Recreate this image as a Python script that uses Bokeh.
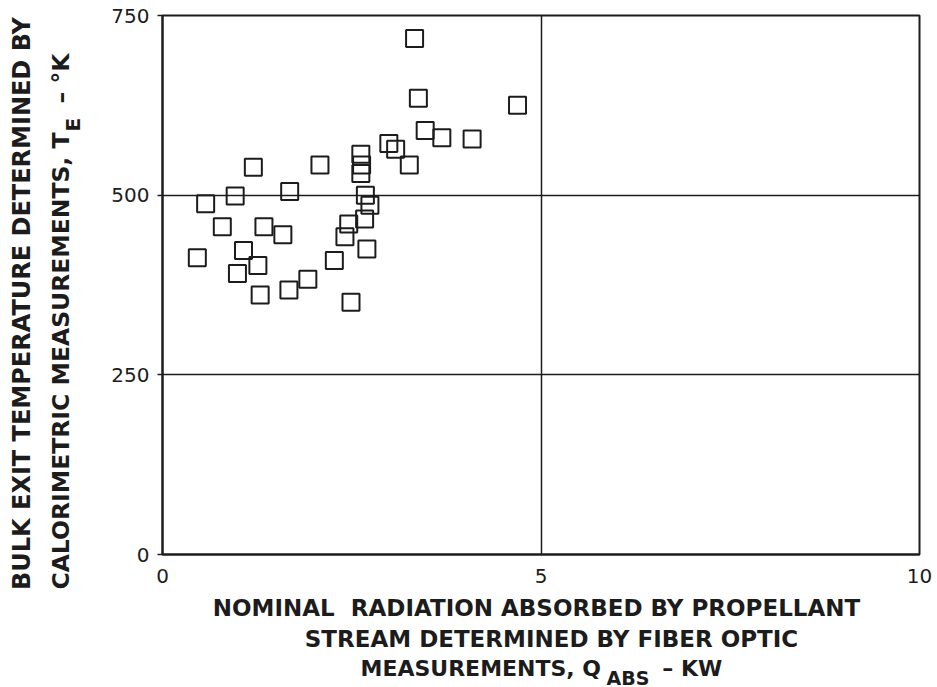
import math
from bokeh.plotting import figure
from bokeh.models import Range1d, FixedTicker, Label
from bokeh.embed import file_html
from bokeh.resources import INLINE

# ---- data ----
x_ticks = [0, 5, 10]
y_ticks = [0, 250, 500, 750]
x_grid = [5]
y_grid = [250, 500]

q_abs = [3.33, 3.38, 4.69, 3.47, 3.69, 4.09, 2.99, 3.08, 3.26, 1.20,
         2.08, 2.62, 2.63, 2.62, 2.68, 2.74, 0.96, 0.57, 1.68, 0.79,
         1.34, 1.59, 2.67, 2.46, 2.41, 2.70, 0.46, 1.07, 1.26, 0.99,
         2.27, 1.92, 1.67, 1.29, 2.49]
t_exit = [718, 635, 625, 590, 580, 578, 572, 564, 542, 539,
          542, 557, 542, 530, 500, 486, 499, 488, 505, 456,
          456, 445, 467, 460, 442, 425, 413, 423, 402, 391,
          409, 383, 368, 361, 351]

NB = "\u00a0"
x_title_1 = "NOMINAL" + NB + " RADIATION ABSORBED BY PROPELLANT"
x_title_2 = "STREAM DETERMINED BY FIBER OPTIC"
x_title_3 = "MEASUREMENTS, Q" + NB * 8 + "– KW"
x_title_sub = "ABS"
y_title_1 = "BULK EXIT TEMPERATURE DETERMINED BY"
y_title_2 = "CALORIMETRIC MEASUREMENTS, T"
y_title_sub = "E"
y_title_unit = "–" + NB + "°K"

W, H = 937, 687
L, R, T, B = 162, 18, 15, 133
INK = "#1c1c1c"
FONT = "DejaVu Sans"

p = figure(width=W, height=H, x_range=Range1d(0, 10), y_range=Range1d(0, 750),
           output_backend="svg", toolbar_location=None,
           min_border_left=L, min_border_right=R, min_border_top=T, min_border_bottom=B)
p.background_fill_color = "white"
p.border_fill_color = "white"
p.outline_line_color = INK
p.outline_line_width = 2

p.xaxis.ticker = FixedTicker(ticks=x_ticks)
p.yaxis.ticker = FixedTicker(ticks=y_ticks)
p.xgrid.ticker = FixedTicker(ticks=x_grid)
p.ygrid.ticker = FixedTicker(ticks=y_grid)
for g in (p.xgrid, p.ygrid):
    g.grid_line_color = INK
    g.grid_line_width = 1.5
    g.grid_line_alpha = 1.0

for ax in (p.xaxis, p.yaxis):
    ax.axis_line_color = INK
    ax.axis_line_width = 2
    ax.major_tick_line_color = INK
    ax.major_tick_line_width = 1.5
    ax.minor_tick_line_color = None
    ax.major_label_text_font = FONT
    ax.major_label_text_font_size = "20px"
    ax.major_label_text_color = INK
p.yaxis.major_tick_out = 5
p.yaxis.major_tick_in = 0
p.xaxis.major_tick_out = 0
p.xaxis.major_tick_in = 0
p.yaxis.major_label_standoff = 8
p.xaxis.major_label_standoff = 14

p.scatter(q_abs, t_exit, marker="square", size=17, fill_color="white", fill_alpha=0.0,
          line_color=INK, line_width=2)


def lab(side, text, cx, cy, size, angle=0.0, align="left", baseline="middle"):
    p.add_layout(Label(x=cx, y=cy, x_units="canvas", y_units="canvas",
                       text=text, angle=angle, text_align=align, text_baseline=baseline,
                       text_font=FONT, text_font_size=f"{size}px", text_font_style="bold",
                       text_color=INK), side)


# x-axis title (three lines, subscript ABS)
lab("below", x_title_1, 536, 607, 23, align="center")
lab("below", x_title_2, 551, 638, 23, align="center")
lab("below", x_title_3, 360, 668, 22, align="left")
lab("below", x_title_sub, 606, 677, 19, align="left")

# y-axis title (two rotated lines, subscript E)
up = math.pi / 2
lab("left", y_title_1, 21, 303, 24, angle=up, align="center")
lab("left", y_title_2, 60, 132, 23.5, angle=up, align="right")
lab("left", y_title_sub, 72, 131, 20, angle=up, align="left")
lab("left", y_title_unit, 60, 103, 23.5, angle=up, align="left")

open("out.html", "w").write(file_html(p, INLINE))
